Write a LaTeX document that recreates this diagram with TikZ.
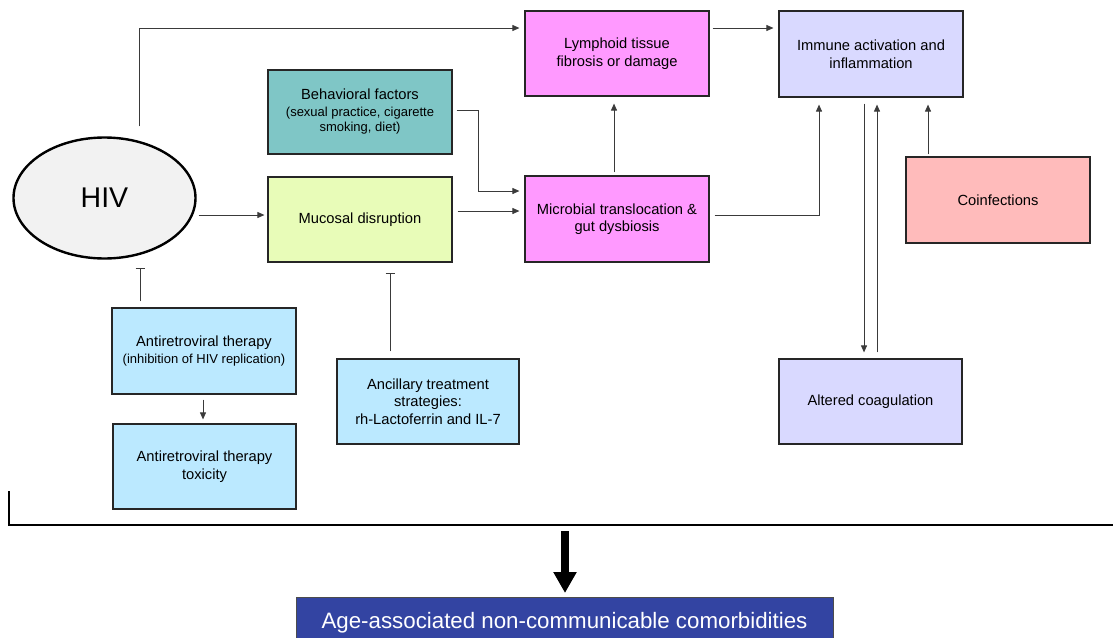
\documentclass[tikz,border=0pt]{standalone}
\usepackage{fontspec}
\setmainfont{Liberation Sans}
\usetikzlibrary{arrows.meta,calc,shapes.geometric}
\definecolor{pinkbox}{HTML}{FF99FF}
\definecolor{lavbox}{HTML}{D9D9FF}
\definecolor{tealbox}{HTML}{7FC6C6}
\definecolor{limebox}{HTML}{E8FCB8}
\definecolor{salbox}{HTML}{FFBBBB}
\definecolor{bluebox}{HTML}{BBE9FF}
\definecolor{darkbox}{HTML}{3344A2}
\definecolor{hivfill}{HTML}{F2F2F2}
\definecolor{conn}{HTML}{3A3A3A}
\newcommand{\lowtext}[1]{\raisebox{-1.5pt}{\parbox{170pt}{\centering #1}}}
\begin{document}
\begin{tikzpicture}[x=1pt,y=-1pt,
  box/.style={draw=black!85,line width=1.2pt,minimum width=184pt,minimum height=85pt,
    align=center,inner sep=2pt,font=\fontsize{14.7}{17.5}\selectfont},
  arr/.style={draw=conn,line width=0.9pt,-{Triangle[length=7pt,width=6pt]}},
  inh/.style={draw=conn,line width=0.9pt,-{Bar[width=9pt]}}]
\useasboundingbox (0,0) rectangle (1113,637);
\fill[white] (0,0) rectangle (1113,637);
% nodes
\node[box,fill=pinkbox] (lymph) at (617,53.5) {\lowtext{Lymphoid tissue\\fibrosis or damage}};
\node[box,fill=lavbox,minimum height=86pt] (immune) at (871,54) {\lowtext{Immune activation and\\inflammation}};
\node[box,fill=tealbox,minimum height=84pt] (behav) at (360,112) {Behavioral factors\\[-1pt]{\fontsize{13}{15}\selectfont (sexual practice, cigarette}\\[-2pt]{\fontsize{13}{15}\selectfont smoking, diet)}};
\node[box,fill=limebox] (mucosal) at (360,219.5) {\raisebox{-2pt}{Mucosal disruption}};
\node[box,fill=pinkbox,minimum height=86pt] (microbial) at (617,219) {\lowtext{Microbial translocation \&\\gut dysbiosis}};
\node[box,fill=salbox,minimum height=86pt] (coinf) at (998,200) {\raisebox{-1pt}{Coinfections}};
\node[ellipse,draw=black,line width=2.4pt,fill=hivfill,minimum width=182pt,minimum height=121pt,
  inner sep=0pt,font=\fontsize{28.5}{30}\selectfont] (hiv) at (104.5,198) {HIV};
\node[box,fill=bluebox,minimum height=86pt] (art) at (204,351) {Antiretroviral therapy\\{\fontsize{13}{15.5}\selectfont (inhibition of HIV replication)}};
\node[box,fill=bluebox,minimum width=183pt] (tox) at (204.5,466.5) {\lowtext{Antiretroviral therapy\\toxicity}};
\node[box,fill=bluebox,minimum width=182pt] (anc) at (428,401.5) {Ancillary treatment\\strategies:\\rh-Lactoferrin and IL-7};
\node[box,fill=lavbox,minimum width=183pt] (coag) at (870.5,401.5) {\raisebox{-1.5pt}{Altered coagulation}};
\node[draw=black!70,line width=1pt,fill=darkbox,minimum width=537pt,minimum height=44pt,
  text=white,font=\fontsize{22.3}{24}\selectfont,anchor=north,inner sep=0pt,text depth=0pt] (out) at (564.5,597) {\raisebox{-2pt}{Age-associated non-communicable comorbidities}};
% connectors
\draw[arr,shorten >=5pt] ($(hiv.north)+(35,-10)$) |- (lymph.west |- 0,28);
\draw[arr,shorten <=3pt,shorten >=5pt] (lymph.east |- 0,28) -- (immune.west |- 0,28);
\draw[arr,shorten >=5pt] ($(behav.east |- 0,110)+(4,0)$) -- ++(22,0) |- (microbial.west |- 0,191);
\draw[arr,shorten <=2pt,shorten >=3pt] (hiv.east |- 0,215) -- (mucosal.west |- 0,215);
\draw[arr,shorten <=5pt,shorten >=5pt] (mucosal.east |- 0,211) -- (microbial.west |- 0,211);
\draw[arr,shorten <=3pt,shorten >=7pt] (microbial.north -| 614,0) -- (lymph.south -| 614,0);
\draw[arr,shorten >=7pt] ($(microbial.east |- 0,215)+(5,0)$) -| (immune.south -| 819,0);
\draw[arr,shorten <=6pt,shorten >=6pt] (immune.south -| 864,0) -- (coag.north -| 864,0);
\draw[arr,shorten <=6pt,shorten >=7pt] (coag.north -| 877,0) -- (immune.south -| 877,0);
\draw[arr,shorten <=2pt,shorten >=7pt] (coinf.north -| 928,0) -- (immune.south -| 928,0);
\draw[inh,shorten <=6pt,shorten >=8pt] (art.north -| 140,0) -- (hiv.south -| 140,0);
\draw[inh,shorten <=7pt,shorten >=10pt] (anc.north -| 390,0) -- (mucosal.south -| 390,0);
\draw[arr,shorten <=5pt,shorten >=4pt] (art.south -| 203,0) -- (tox.north -| 203,0);
% bracket line
\draw[black,line width=1.3pt] (9,491) -- (9,525) -- (1113,525);
\coordinate (arrtop) at (565,531);
\draw[black,line width=8pt,-{Triangle[length=21pt,width=22pt]},shorten >=4pt] (arrtop) -- (out.north -| arrtop);
\end{tikzpicture}
\end{document}
